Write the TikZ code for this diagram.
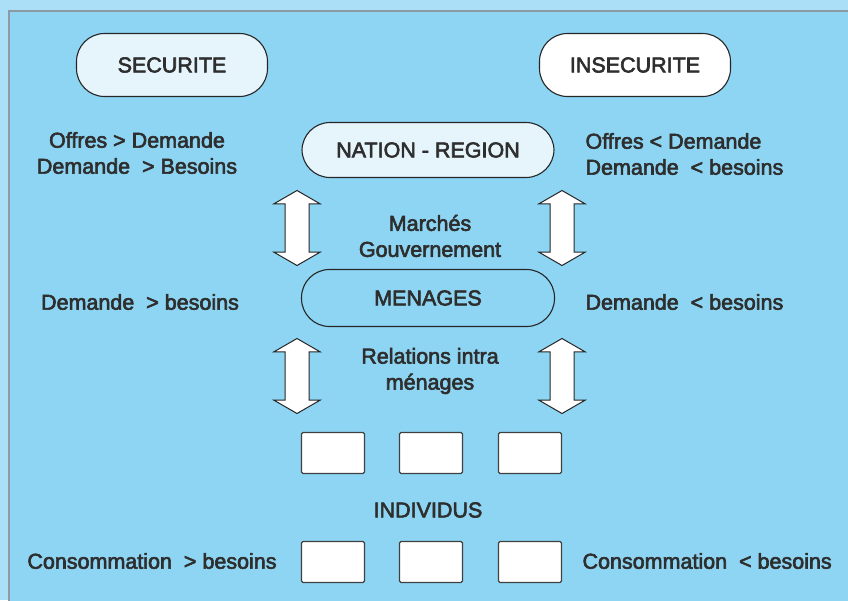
\documentclass[tikz,border=0pt]{standalone}
\usepackage{fontspec}
\setmainfont{Liberation Sans}
\usetikzlibrary{shapes.arrows}

\definecolor{outerblue}{HTML}{ABDFF8}
\definecolor{innerblue}{HTML}{8DD5F3}
\definecolor{framegray}{HTML}{8E9AA3}
\definecolor{pillfill}{HTML}{E6F4FC}
\definecolor{inktext}{HTML}{2E2E2E}

% slightly heavier strokes for the printed labels
\newcommand\heavyon{\special{pdf:literal direct 2 Tr 0.6 w}}
\newcommand\heavyoff{\special{pdf:literal direct 0 Tr}}

\begin{document}
\begin{tikzpicture}[x=1pt, y=-1pt,
  every node/.style = {text=inktext, font=\fontsize{21.5}{26}\selectfont, align=center,
    execute at begin node=\heavyon, execute at end node=\heavyoff},
  pill/.style = {draw=black!85, line width=1.1pt, rounded corners=28pt,
    minimum width=191pt, minimum height=63pt},
  dblarrow/.style = {double arrow, draw=black!85, fill=white, line width=1pt,
    inner sep=11.5pt, minimum height=75pt, double arrow head extend=11pt,
    double arrow tip angle=120, shape border rotate=90},
  indiv/.style = {draw=black!75, fill=white, line width=1.1pt, rounded corners=1.5pt,
    minimum width=63pt, minimum height=41pt, inner sep=0pt}]
  \useasboundingbox (0,0) rectangle (848,600);
  \fill[outerblue] (0,0) rectangle (848,600);
  \fill[innerblue] (9,11) rectangle (860,610);
  \draw[framegray, line width=2pt] (9,610) -- (9,11) -- (860,11);

  % top level
  \node[pill, fill=pillfill] (secu) at (172,65) {SECURITE};
  \node[pill, fill=white] (insecu) at (635,65) {INSECURITE};
  \node[pill, fill=pillfill, minimum width=252pt, minimum height=55pt] (nation) at (428,150) {NATION - REGION};
  \node (offreg) at (137,153) {Offres > Demande\\Demande\ \ > Besoins};
  \node[anchor=west, align=left] (offred) at (582,154) {Offres < Demande\\Demande\ \ < besoins};

  % menages
  \node[dblarrow] (a1) at (297,228) {};
  \node[dblarrow] (a2) at (562,228) {};
  \node (march) at (430,236) {Marchés\\Gouvernement};
  \node[pill, minimum width=253pt, minimum height=57pt] (menag) at (428,298) {MENAGES};
  \node (demg) at (140,302) {Demande\ \ > besoins};
  \node[anchor=west] (demd) at (582,302) {Demande\ \ < besoins};
  \node[dblarrow] (a3) at (297,376) {};
  \node[dblarrow] (a4) at (562,376) {};
  \node (relat) at (430,371) {Relations intra\\ménages};

  % individus
  \foreach \i/\x in {1/333, 2/431, 3/530} {
    \node[indiv] (ih\i) at (\x,453) {};
    \node[indiv] (ib\i) at (\x,562) {};
  }
  \node (indiv) at (428,510) {INDIVIDUS};
  \node (consg) at (152,561) {Consommation\ \ > besoins};
  \node[anchor=west] (consd) at (579,561) {Consommation\ \ < besoins};
\end{tikzpicture}
\end{document}
